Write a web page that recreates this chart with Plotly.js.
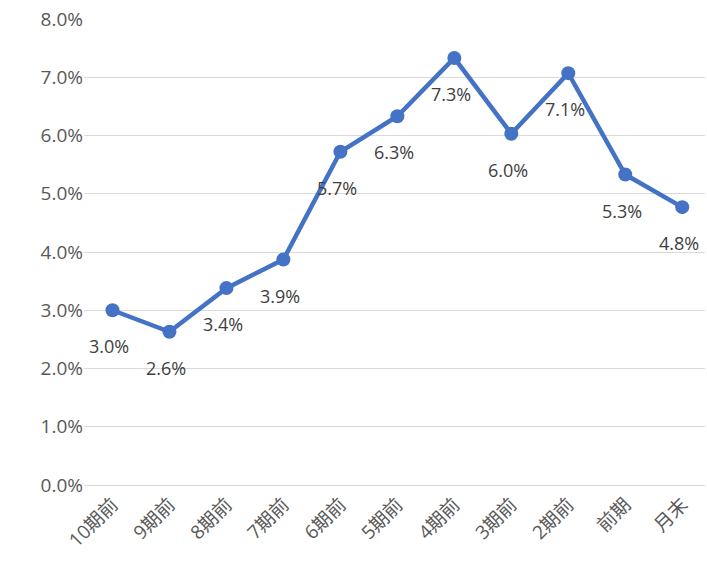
<!DOCTYPE html>
<html>
<head>
<meta charset="utf-8">
<script src="https://cdn.plot.ly/plotly-3.0.1.min.js"></script>
<style>body{margin:0}</style>
</head>
<body>
<div id="chart" style="width:707px;height:569px"></div>
<script>
const categories = ['10期前', '9期前', '8期前', '7期前', '6期前', '5期前', '4期前', '3期前', '2期前', '前期', '月末'];
const values = [0.030, 0.0263, 0.0338, 0.0387, 0.0572, 0.0633, 0.0733, 0.0603, 0.0707, 0.0533, 0.0477];

const fontFam = '"Open Sans", "Noto Sans CJK JP", sans-serif';

const trace = {
  type: 'scatter',
  mode: 'lines+markers',
  x: categories,
  y: values,
  line: { color: '#4472C4', width: 4.5 },
  marker: { color: '#4472C4', size: 14 },
  cliponaxis: false,
  hoverinfo: 'none'
};

const annotations = categories.map((c, i) => ({
  x: c, y: values[i],
  text: (values[i] * 100).toFixed(1) + '%',
  showarrow: false,
  yshift: -36, xshift: -3,
  font: { family: fontFam, size: 18, color: '#404040' }
}));

const layout = {
  margin: { t: 19, l: 84, r: 2, b: 84 },
  paper_bgcolor: 'white',
  plot_bgcolor: 'white',
  showlegend: false,
  annotations: annotations,
  xaxis: {
    type: 'category',
    range: [-0.5, 10.4],
    automargin: false,
    tickangle: -45,
    showgrid: false,
    showline: true,
    linecolor: '#d9d9d9',
    ticks: '',
    tickfont: { family: fontFam, size: 19, color: '#595959' }
  },
  yaxis: {
    range: [0, 0.08],
    dtick: 0.01,
    tickformat: '.1%',
    automargin: false,
    gridcolor: '#d9d9d9',
    zeroline: false,
    ticks: '',
    tickfont: { family: fontFam, size: 19, color: '#595959' }
  }
};

Plotly.newPlot('chart', [trace], layout, { displayModeBar: false });
</script>
</body>
</html>
